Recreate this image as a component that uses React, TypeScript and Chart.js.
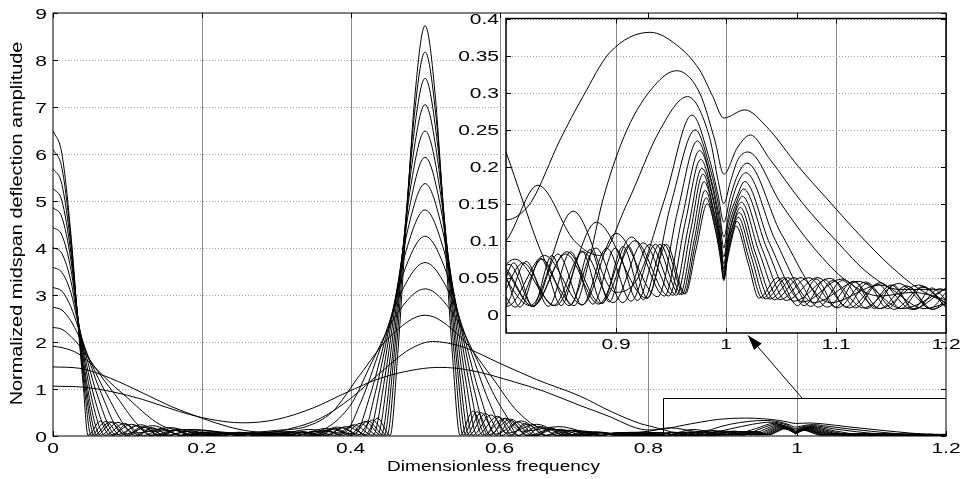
import React, { useEffect, useRef } from "react";
import { Chart, registerables } from "chart.js";

Chart.register(...registerables);

// ---------- data: each curve as flat [x, y, x, y, ...] pairs ----------
const c0 = [0,1.06, 0.04,1.04, 0.08,0.94, 0.12,0.78, 0.17,0.52, 0.21,0.36, 0.255,0.28, 0.3,0.35, 0.35,0.6, 0.395,0.93, 0.44,1.23, 0.49,1.42, 0.52,1.46, 0.56,1.4, 0.62,1.15, 0.66,0.95, 0.708,0.65, 0.75,0.4, 0.775,0.22, 0.79,0.145, 0.8,0.128, 0.812,0.135, 0.824,0.155, 0.849,0.236, 0.87,0.295, 0.894,0.354, 0.931,0.382, 0.955,0.365, 0.976,0.331, 0.988,0.295, 0.998,0.266, 1.017,0.277, 1.037,0.254, 1.066,0.2, 1.091,0.158, 1.12,0.11, 1.15,0.065, 1.175,0.035, 1.2,0.016];
const c1 = [0,1.47, 0.036,1.44, 0.077,1.23, 0.12,0.92, 0.16,0.62, 0.2,0.38, 0.235,0.2, 0.265,0.1, 0.29,0.08, 0.32,0.16, 0.36,0.38, 0.4,0.8, 0.44,1.35, 0.48,1.85, 0.51,2.01, 0.55,1.9, 0.6,1.55, 0.65,1.2, 0.708,0.85, 0.75,0.52, 0.79,0.26, 0.8,0.22, 0.815,0.155, 0.831,0.088, 0.849,0.034, 0.862,0.012, 0.875,0.07, 0.888,0.155, 0.91,0.25, 0.935,0.31, 0.955,0.33, 0.976,0.3, 0.99,0.235, 0.998,0.19, 1.01,0.225, 1.022,0.243, 1.04,0.21, 1.07,0.15, 1.1,0.1, 1.13,0.055, 1.157,0.034, 1.18,0.034, 1.2,0.033];
const c2 = [0,1.91, 0.012,1.88, 0.034,1.75, 0.09,0.95, 0.16,0.15, 0.2,0.12, 0.25,0.06, 0.3,0.12, 0.34,0.2, 0.375,0.51, 0.412,1.29, 0.452,2.1, 0.5,2.57, 0.548,2.1, 0.588,1.29, 0.625,0.51, 0.66,0.15, 0.7,0.12, 0.75,0.06, 0.8,0.1, 0.829,0.175, 0.862,0.1, 0.885,0.08, 0.91,0.15, 0.94,0.25, 0.965,0.295, 0.985,0.24, 0.993,0.18, 0.998,0.15, 1.004,0.18, 1.011,0.21, 1.02,0.22, 1.05,0.15, 1.08,0.09, 1.11,0.045, 1.14,0.025, 1.17,0.03, 1.2,0.02];
const c3 = [0,2.31, 0.012,2.27, 0.024,2.12, 0.034,1.95, 0.08,0.95, 0.13,0.1, 0.19,0.14, 0.25,0.03, 0.31,0.1, 0.345,0.075, 0.3986,0.63, 0.4285,1.57, 0.461,2.57, 0.5,3.13, 0.539,2.57, 0.5715,1.57, 0.6014,0.63, 0.63,0.1, 0.68,0.2, 0.73,0.04, 0.78,0.08, 0.822,0.012, 0.861,0.14, 0.9,0.03, 0.92,0.05, 0.945,0.16, 0.969,0.27, 0.985,0.21, 0.993,0.16, 0.998,0.125, 1.004,0.16, 1.011,0.19, 1.019,0.205, 1.05,0.11, 1.095,0.016, 1.14,0.04, 1.18,0.008, 1.2,0.015];
const c4 = [0,2.74, 0.012,2.68, 0.024,2.45, 0.034,2.15, 0.07,0.95, 0.11,0.06, 0.1567,0.18, 0.2033,0.02, 0.25,0.08, 0.2967,0.02, 0.3433,0.14, 0.39,0.06, 0.4142,0.74, 0.4395,1.85, 0.467,3.03, 0.5,3.69, 0.533,3.03, 0.5605,1.85, 0.5858,0.74, 0.61,0.06, 0.65,0.25, 0.69,0.015, 0.73,0.09, 0.77,0.01, 0.808,0.075, 0.845,0.012, 0.882,0.125, 0.928,0.022, 0.95,0.15, 0.972,0.25, 0.986,0.195, 0.993,0.15, 0.998,0.105, 1.003,0.14, 1.01,0.175, 1.018,0.192, 1.045,0.1, 1.08,0.016, 1.12,0.045, 1.16,0.008, 1.2,0.035];
const c5 = [0,3.16, 0.012,3.08, 0.024,2.75, 0.034,2.3, 0.065,0.9, 0.095,0.04, 0.1338,0.22, 0.1725,0.015, 0.2113,0.09, 0.25,0.012, 0.2888,0.07, 0.3275,0.015, 0.3663,0.16, 0.405,0.04, 0.4259,0.85, 0.4477,2.13, 0.4715,3.49, 0.5,4.25, 0.5285,3.49, 0.5523,2.13, 0.5741,0.85, 0.595,0.04, 0.6293,0.32, 0.6636,0.012, 0.6979,0.12, 0.7322,0.01, 0.7665,0.07, 0.8008,0.011, 0.8351,0.08, 0.8694,0.013, 0.9,0.11, 0.938,0.024, 0.956,0.14, 0.974,0.235, 0.987,0.18, 0.994,0.13, 0.998,0.09, 1.002,0.125, 1.01,0.16, 1.017,0.18, 1.04,0.095, 1.07,0.017, 1.105,0.048, 1.14,0.008, 1.175,0.04, 1.2,0.015];
const c6 = [0,3.59, 0.012,3.48, 0.024,3.05, 0.034,2.38, 0.06,0.85, 0.085,0.025, 0.118,0.24, 0.151,0.012, 0.184,0.11, 0.217,0.01, 0.25,0.065, 0.283,0.012, 0.316,0.08, 0.349,0.015, 0.382,0.19, 0.415,0.025, 0.4337,0.96, 0.4532,2.41, 0.4745,3.94, 0.5,4.81, 0.5255,3.94, 0.5468,2.41, 0.5663,0.96, 0.585,0.025, 0.6149,0.36, 0.6448,0.012, 0.6748,0.14, 0.7047,0.01, 0.7346,0.075, 0.7645,0.01, 0.7944,0.068, 0.8243,0.011, 0.8543,0.082, 0.8842,0.014, 0.9141,0.105, 0.944,0.025, 0.96,0.13, 0.976,0.222, 0.988,0.17, 0.994,0.12, 0.998,0.078, 1.002,0.115, 1.009,0.15, 1.016,0.17, 1.037,0.09, 1.062,0.018, 1.094,0.049, 1.125,0.009, 1.157,0.042, 1.188,0.007, 1.2,0.015];
const c7 = [0,4.01, 0.012,3.88, 0.024,3.3, 0.034,2.42, 0.055,0.85, 0.077,0.02, 0.1059,0.25, 0.1347,0.012, 0.1635,0.13, 0.1923,0.01, 0.2212,0.075, 0.25,0.012, 0.2788,0.062, 0.3077,0.01, 0.3365,0.085, 0.3653,0.015, 0.3942,0.2, 0.423,0.02, 0.44,1.07, 0.4576,2.69, 0.4769,4.4, 0.5,5.37, 0.5231,4.4, 0.5424,2.69, 0.56,1.07, 0.577,0.02, 0.6079,0.38, 0.6388,0.012, 0.6697,0.15, 0.7007,0.01, 0.7316,0.078, 0.7625,0.01, 0.7934,0.066, 0.8243,0.011, 0.8553,0.085, 0.8862,0.015, 0.9171,0.1, 0.948,0.025, 0.963,0.125, 0.977,0.21, 0.988,0.16, 0.994,0.11, 0.998,0.069, 1.002,0.105, 1.008,0.14, 1.015,0.16, 1.033,0.088, 1.055,0.019, 1.083,0.05, 1.112,0.009, 1.14,0.043, 1.169,0.007, 1.2,0.036];
const c8 = [0,4.44, 0.012,4.27, 0.024,3.55, 0.034,2.45, 0.052,0.8, 0.07,0.015, 0.0957,0.27, 0.1214,0.012, 0.1471,0.15, 0.1729,0.01, 0.1986,0.085, 0.2243,0.012, 0.25,0.062, 0.2757,0.01, 0.3014,0.066, 0.3271,0.012, 0.3529,0.1, 0.3786,0.015, 0.4043,0.24, 0.43,0.015, 0.4454,1.19, 0.4615,2.97, 0.479,4.86, 0.5,5.93, 0.521,4.86, 0.5385,2.97, 0.5546,1.19, 0.57,0.015, 0.5973,0.42, 0.6246,0.012, 0.6519,0.2, 0.6791,0.01, 0.7064,0.1, 0.7337,0.01, 0.761,0.065, 0.7883,0.01, 0.8156,0.07, 0.8429,0.012, 0.8701,0.085, 0.8974,0.016, 0.9247,0.097, 0.952,0.026, 0.966,0.12, 0.978,0.198, 0.989,0.15, 0.995,0.1, 0.998,0.062, 1.001,0.095, 1.007,0.132, 1.014,0.152, 1.03,0.085, 1.049,0.02, 1.075,0.05, 1.101,0.009, 1.127,0.044, 1.153,0.007, 1.179,0.038, 1.2,0.01];
const c9 = [0,4.86, 0.012,4.65, 0.024,3.75, 0.034,2.45, 0.049,0.8, 0.064,0.015, 0.0873,0.29, 0.1105,0.012, 0.1338,0.17, 0.157,0.01, 0.1803,0.1, 0.2035,0.012, 0.2268,0.068, 0.25,0.01, 0.2733,0.06, 0.2965,0.012, 0.3198,0.07, 0.343,0.012, 0.3663,0.12, 0.3895,0.015, 0.4128,0.27, 0.436,0.015, 0.45,1.3, 0.4648,3.25, 0.4808,5.32, 0.5,6.49, 0.5192,5.32, 0.5352,3.25, 0.55,1.3, 0.564,0.015, 0.5885,0.45, 0.6129,0.012, 0.6374,0.25, 0.6618,0.01, 0.6862,0.13, 0.7106,0.01, 0.7351,0.078, 0.7595,0.01, 0.784,0.062, 0.8084,0.01, 0.8329,0.075, 0.8573,0.012, 0.8817,0.09, 0.9061,0.016, 0.9306,0.095, 0.955,0.026, 0.968,0.115, 0.979,0.19, 0.989,0.14, 0.995,0.095, 0.998,0.057, 1.001,0.09, 1.007,0.125, 1.013,0.145, 1.027,0.082, 1.044,0.02, 1.068,0.05, 1.092,0.01, 1.116,0.045, 1.14,0.008, 1.164,0.039, 1.188,0.007, 1.2,0.02];
const c10 = [0,5.27, 0.012,5.0, 0.024,3.9, 0.034,2.42, 0.047,0.8, 0.059,0.015, 0.0802,0.3, 0.1014,0.012, 0.1226,0.19, 0.1438,0.01, 0.165,0.12, 0.1862,0.012, 0.2074,0.076, 0.2286,0.01, 0.2498,0.06, 0.271,0.012, 0.2922,0.063, 0.3134,0.01, 0.3346,0.087, 0.3558,0.012, 0.377,0.155, 0.3982,0.015, 0.4194,0.31, 0.441,0.015, 0.454,1.41, 0.4675,3.53, 0.4823,5.78, 0.5,7.05, 0.5177,5.78, 0.5325,3.53, 0.546,1.41, 0.559,0.015, 0.5812,0.48, 0.6033,0.012, 0.6255,0.3, 0.6477,0.01, 0.6698,0.165, 0.692,0.01, 0.7142,0.095, 0.7363,0.01, 0.7585,0.065, 0.7807,0.01, 0.8028,0.068, 0.825,0.011, 0.8472,0.082, 0.8693,0.013, 0.8915,0.09, 0.9137,0.018, 0.9358,0.095, 0.958,0.027, 0.97,0.11, 0.98,0.18, 0.99,0.13, 0.995,0.09, 0.998,0.053, 1.001,0.085, 1.006,0.118, 1.012,0.138, 1.025,0.08, 1.04,0.021, 1.062,0.05, 1.084,0.01, 1.106,0.046, 1.128,0.008, 1.15,0.04, 1.172,0.007, 1.194,0.035, 1.2,0.033];
const c11 = [0,5.69, 0.012,5.35, 0.024,4.05, 0.034,2.4, 0.045,0.85, 0.055,0.015, 0.0767,0.3, 0.0983,0.012, 0.12,0.2, 0.1417,0.01, 0.1633,0.125, 0.185,0.012, 0.2067,0.078, 0.2283,0.01, 0.25,0.06, 0.2717,0.012, 0.2933,0.063, 0.315,0.01, 0.3367,0.088, 0.3583,0.012, 0.38,0.16, 0.4017,0.015, 0.4233,0.32, 0.445,0.015, 0.4571,1.52, 0.4697,3.8, 0.4835,6.24, 0.5,7.61, 0.5165,6.24, 0.5303,3.8, 0.5429,1.52, 0.555,0.015, 0.5753,0.5, 0.5955,0.012, 0.6158,0.33, 0.636,0.01, 0.6563,0.2, 0.6765,0.01, 0.6968,0.115, 0.717,0.01, 0.7373,0.075, 0.7575,0.01, 0.7778,0.062, 0.798,0.01, 0.8183,0.072, 0.8385,0.011, 0.8588,0.085, 0.879,0.014, 0.8993,0.09, 0.9195,0.019, 0.9398,0.095, 0.96,0.027, 0.971,0.1, 0.981,0.168, 0.99,0.125, 0.995,0.085, 0.998,0.05, 1.001,0.08, 1.006,0.112, 1.011,0.132, 1.023,0.078, 1.036,0.021, 1.056,0.05, 1.077,0.011, 1.097,0.046, 1.118,0.009, 1.138,0.041, 1.159,0.008, 1.179,0.037, 1.2,0.01];
const c12 = [0,6.1, 0.012,5.7, 0.024,4.2, 0.034,2.35, 0.043,0.9, 0.051,0.015, 0.0709,0.31, 0.0908,0.012, 0.1107,0.22, 0.1306,0.01, 0.1505,0.145, 0.1704,0.012, 0.1903,0.09, 0.2102,0.01, 0.2301,0.066, 0.25,0.012, 0.2699,0.06, 0.2898,0.01, 0.3097,0.07, 0.3296,0.012, 0.3495,0.1, 0.3694,0.012, 0.3893,0.18, 0.4092,0.015, 0.4291,0.34, 0.449,0.015, 0.4602,1.63, 0.472,4.09, 0.4847,6.7, 0.5,8.17, 0.5153,6.7, 0.528,4.09, 0.5398,1.63, 0.551,0.015, 0.5697,0.52, 0.5884,0.012, 0.6071,0.37, 0.6258,0.01, 0.6445,0.24, 0.6632,0.01, 0.6819,0.145, 0.7006,0.01, 0.7193,0.09, 0.738,0.01, 0.7567,0.068, 0.7754,0.01, 0.7941,0.065, 0.8128,0.01, 0.8315,0.076, 0.8502,0.012, 0.8689,0.086, 0.8876,0.015, 0.9063,0.092, 0.925,0.02, 0.9435,0.095, 0.962,0.028, 0.972,0.095, 0.982,0.158, 0.99,0.118, 0.995,0.08, 0.998,0.048, 1.001,0.075, 1.005,0.105, 1.01,0.126, 1.021,0.075, 1.033,0.022, 1.052,0.05, 1.071,0.012, 1.09,0.047, 1.109,0.01, 1.128,0.042, 1.147,0.008, 1.166,0.038, 1.185,0.008, 1.2,0.03];
const c13 = [0,6.5, 0.012,6.0, 0.024,4.3, 0.034,2.3, 0.041,1.0, 0.047,0.015, 0.064,0.32, 0.081,0.012, 0.098,0.25, 0.115,0.01, 0.132,0.18, 0.148,0.012, 0.165,0.12, 0.182,0.01, 0.199,0.08, 0.216,0.012, 0.233,0.065, 0.25,0.01, 0.267,0.06, 0.284,0.012, 0.301,0.065, 0.318,0.01, 0.335,0.085, 0.351,0.012, 0.368,0.13, 0.385,0.015, 0.402,0.22, 0.419,0.015, 0.436,0.38, 0.453,0.015, 0.4633,1.75, 0.4741,4.37, 0.4859,7.16, 0.5,8.73, 0.5141,7.16, 0.5259,4.37, 0.5367,1.75, 0.547,0.015, 0.5644,0.53, 0.5817,0.012, 0.599,0.4, 0.6164,0.01, 0.6337,0.27, 0.651,0.01, 0.6684,0.17, 0.6857,0.01, 0.703,0.105, 0.7204,0.01, 0.7377,0.075, 0.755,0.01, 0.7724,0.062, 0.7898,0.01, 0.807,0.07, 0.8245,0.011, 0.8418,0.08, 0.859,0.013, 0.8765,0.088, 0.8939,0.017, 0.911,0.093, 0.9286,0.022, 0.9458,0.095, 0.963,0.028, 0.973,0.09, 0.983,0.15, 0.991,0.11, 0.995,0.075, 0.998,0.046, 1.001,0.072, 1.005,0.1, 1.009,0.12, 1.02,0.07, 1.03,0.022, 1.047,0.05, 1.065,0.012, 1.082,0.048, 1.1,0.01, 1.117,0.044, 1.135,0.008, 1.152,0.04, 1.17,0.007, 1.187,0.036, 1.2,0.02];

const curves = [c0, c1, c2, c3, c4, c5, c6, c7, c8, c9, c10, c11, c12, c13];

// ---------- axes ----------
const mainXTicks = [0, 0.2, 0.4, 0.6, 0.8, 1, 1.2];
const mainXLabels = ["0", "0.2", "0.4", "0.6", "0.8", "1", "1.2"];
const mainYTicks = [0, 1, 2, 3, 4, 5, 6, 7, 8, 9];
const mainYLabels = ["0", "1", "2", "3", "4", "5", "6", "7", "8", "9"];
const insetXTicks = [0.8, 0.9, 1, 1.1, 1.2];
const insetXLabels = ["", "0.9", "1", "1.1", "1.2"];
const insetYTicks = [0, 0.05, 0.1, 0.15, 0.2, 0.25, 0.3, 0.35, 0.4];
const insetYLabels = ["0", "0.05", "0.1", "0.15", "0.2", "0.25", "0.3", "0.35", "0.4"];
const xTitle = "Dimensionless frequency";
const yTitle = "Normalized midspan deflection amplitude";

// zoom box and arrow in main-axis units
const zoomBox = { x0: 0.82, x1: 1.2, y0: 0, y1: 0.8 };
const arrowFrom = { x: 1.007, y: 0.8 };
const arrowTo = { x: 0.934, y: 2.14 };

const FONT = '"Liberation Sans", Arial, Helvetica, sans-serif';

function toPoints(flat: number[]) {
  const pts: { x: number; y: number }[] = [];
  for (let i = 0; i < flat.length; i += 2) pts.push({ x: flat[i], y: flat[i + 1] });
  return pts;
}

function text(ctx: CanvasRenderingContext2D, s: string, x: number, y: number, align: CanvasTextAlign, sx: number, size: number) {
  ctx.save();
  ctx.font = `${size}px ${FONT}`;
  ctx.fillStyle = "#000";
  ctx.translate(x, y);
  ctx.scale(sx, 1);
  ctx.textAlign = align;
  ctx.textBaseline = "middle";
  ctx.fillText(s, 0, 0);
  ctx.restore();
}

function drawGrid(chart: any, xs: number[], ys: number[]) {
  const { ctx, chartArea: a, scales } = chart;
  ctx.save();
  ctx.lineWidth = 1;
  ctx.strokeStyle = "#8a8a8a";
  ctx.setLineDash([]);
  xs.forEach((v) => {
    const px = Math.round(scales.x.getPixelForValue(v)) + 0.5;
    ctx.beginPath();
    ctx.moveTo(px, a.top);
    ctx.lineTo(px, a.bottom);
    ctx.stroke();
  });
  ctx.strokeStyle = "#9c9c9c";
  ctx.setLineDash([1, 2]);
  ys.forEach((v) => {
    const py = Math.round(scales.y.getPixelForValue(v)) + 0.5;
    ctx.beginPath();
    ctx.moveTo(a.left, py);
    ctx.lineTo(a.right, py);
    ctx.stroke();
  });
  ctx.restore();
}

function drawFrame(chart: any, xt: number[], yt: number[], lw: number) {
  const { ctx, chartArea: a, scales } = chart;
  ctx.save();
  ctx.strokeStyle = "#000";
  ctx.lineWidth = lw;
  ctx.setLineDash([]);
  ctx.strokeRect(a.left, a.top, a.right - a.left, a.bottom - a.top);
  ctx.lineWidth = 1;
  const t = 5;
  xt.forEach((v) => {
    const px = Math.round(scales.x.getPixelForValue(v)) + 0.5;
    ctx.beginPath();
    ctx.moveTo(px, a.bottom);
    ctx.lineTo(px, a.bottom - t);
    ctx.moveTo(px, a.top);
    ctx.lineTo(px, a.top + t);
    ctx.stroke();
  });
  yt.forEach((v) => {
    const py = Math.round(scales.y.getPixelForValue(v)) + 0.5;
    ctx.beginPath();
    ctx.moveTo(a.left, py);
    ctx.lineTo(a.left + t, py);
    ctx.moveTo(a.right, py);
    ctx.lineTo(a.right - t, py);
    ctx.stroke();
  });
  ctx.restore();
}

const mainDecor = {
  id: "mainDecor",
  beforeDatasetsDraw(chart: any) {
    drawGrid(chart, [0.2, 0.4, 0.6, 0.8, 1.0], [1, 2, 3, 4, 5, 6, 7, 8]);
  },
  afterDatasetsDraw(chart: any) {
    const { ctx, chartArea: a, scales } = chart;
    const sx = scales.x, sy = scales.y;
    ctx.save();
    ctx.strokeStyle = "#000";
    ctx.lineWidth = 1;
    const bx0 = Math.round(sx.getPixelForValue(zoomBox.x0)) + 0.5;
    const bx1 = sx.getPixelForValue(zoomBox.x1);
    const by1 = Math.round(sy.getPixelForValue(zoomBox.y1)) + 0.5;
    const by0 = sy.getPixelForValue(zoomBox.y0);
    ctx.beginPath();
    ctx.moveTo(bx0, by0);
    ctx.lineTo(bx0, by1);
    ctx.lineTo(bx1, by1);
    ctx.stroke();
    const fx = sx.getPixelForValue(arrowFrom.x), fy = sy.getPixelForValue(arrowFrom.y);
    const tx = sx.getPixelForValue(arrowTo.x), ty = sy.getPixelForValue(arrowTo.y);
    ctx.beginPath();
    ctx.moveTo(fx, fy);
    ctx.lineTo(tx, ty);
    ctx.stroke();
    const ang = Math.atan2(ty - fy, tx - fx);
    const L = 15, W = 5;
    ctx.beginPath();
    ctx.moveTo(tx, ty);
    ctx.lineTo(tx - L * Math.cos(ang) + W * Math.sin(ang), ty - L * Math.sin(ang) - W * Math.cos(ang));
    ctx.lineTo(tx - L * Math.cos(ang) - W * Math.sin(ang), ty - L * Math.sin(ang) + W * Math.cos(ang));
    ctx.closePath();
    ctx.fillStyle = "#000";
    ctx.fill();
    ctx.restore();

    drawFrame(chart, mainXTicks, mainYTicks, 1);
    mainXTicks.forEach((v, i) => text(ctx, mainXLabels[i], sx.getPixelForValue(v), a.bottom + 13, "center", 1.4, 15));
    mainYTicks.forEach((v, i) => text(ctx, mainYLabels[i], a.left - 6, sy.getPixelForValue(v) + 1.5, "right", 1.4, 15));
    text(ctx, xTitle, (a.left + a.right) / 2 - 6, a.bottom + 31, "center", 1.27, 15);
    ctx.save();
    ctx.font = `17px ${FONT}`;
    ctx.fillStyle = "#000";
    ctx.translate(17, (a.top + a.bottom) / 2 - 1);
    ctx.rotate(-Math.PI / 2);
    ctx.scale(1.17, 1);
    ctx.textAlign = "center";
    ctx.textBaseline = "middle";
    ctx.fillText(yTitle, 0, 0);
    ctx.restore();
  },
};

const insetDecor = {
  id: "insetDecor",
  beforeDraw(chart: any) {
    const { ctx, chartArea: a } = chart;
    ctx.save();
    ctx.fillStyle = "#fff";
    ctx.fillRect(a.left, a.top, a.right - a.left, a.bottom - a.top);
    ctx.restore();
  },
  beforeDatasetsDraw(chart: any) {
    drawGrid(chart, [0.9, 1.0, 1.1], insetYTicks);
  },
  afterDatasetsDraw(chart: any) {
    const { ctx, chartArea: a, scales } = chart;
    drawFrame(chart, insetXTicks, insetYTicks, 1.5);
    insetXTicks.forEach((v, i) => text(ctx, insetXLabels[i], scales.x.getPixelForValue(v), a.bottom + 12, "center", 1.4, 15));
    insetYTicks.forEach((v, i) => text(ctx, insetYLabels[i], a.left - 7, scales.y.getPixelForValue(v) + 1, "right", 1.4, 15));
  },
};

function makeDatasets() {
  return curves.map((c, i) => ({
    label: `curve ${i + 1}`,
    data: toPoints(c),
    borderColor: "#000",
    borderWidth: 1,
    pointRadius: 0,
    fill: false,
    cubicInterpolationMode: "monotone" as const,
  }));
}

export default function App() {
  const mainRef = useRef<HTMLCanvasElement>(null);
  const insetRef = useRef<HTMLCanvasElement>(null);

  useEffect(() => {
    document.body.style.margin = "0";
    const main = new Chart(mainRef.current!, {
      type: "line",
      data: { datasets: makeDatasets() },
      options: {
        animation: false,
        responsive: false,
        events: [],
        parsing: false,
        layout: { padding: { left: 53, right: 16, top: 13, bottom: 43 } },
        plugins: { legend: { display: false }, tooltip: { enabled: false } },
        scales: {
          x: { type: "linear", min: 0, max: 1.2, display: false },
          y: { type: "linear", min: 0, max: 9, display: false },
        },
      },
      plugins: [mainDecor],
    });
    const inset = new Chart(insetRef.current!, {
      type: "line",
      data: { datasets: makeDatasets() },
      options: {
        animation: false,
        responsive: false,
        events: [],
        parsing: false,
        layout: { padding: { left: 66, right: 16, top: 18.5, bottom: 27 } },
        plugins: { legend: { display: false }, tooltip: { enabled: false } },
        scales: {
          x: { type: "linear", min: 0.8, max: 1.2, display: false },
          y: { type: "linear", min: -0.025, max: 0.4007, display: false },
        },
      },
      plugins: [insetDecor],
    });
    return () => {
      main.destroy();
      inset.destroy();
    };
  }, []);

  return (
    <div style={{ position: "fixed", left: 0, top: 0, width: 962, height: 479, background: "#fff" }}>
      <canvas ref={mainRef} width={962} height={479} style={{ position: "absolute", left: 0, top: 0, width: 962, height: 479 }} />
      <canvas ref={insetRef} width={522} height={360} style={{ position: "absolute", left: 440, top: 0, width: 522, height: 360 }} />
    </div>
  );
}
